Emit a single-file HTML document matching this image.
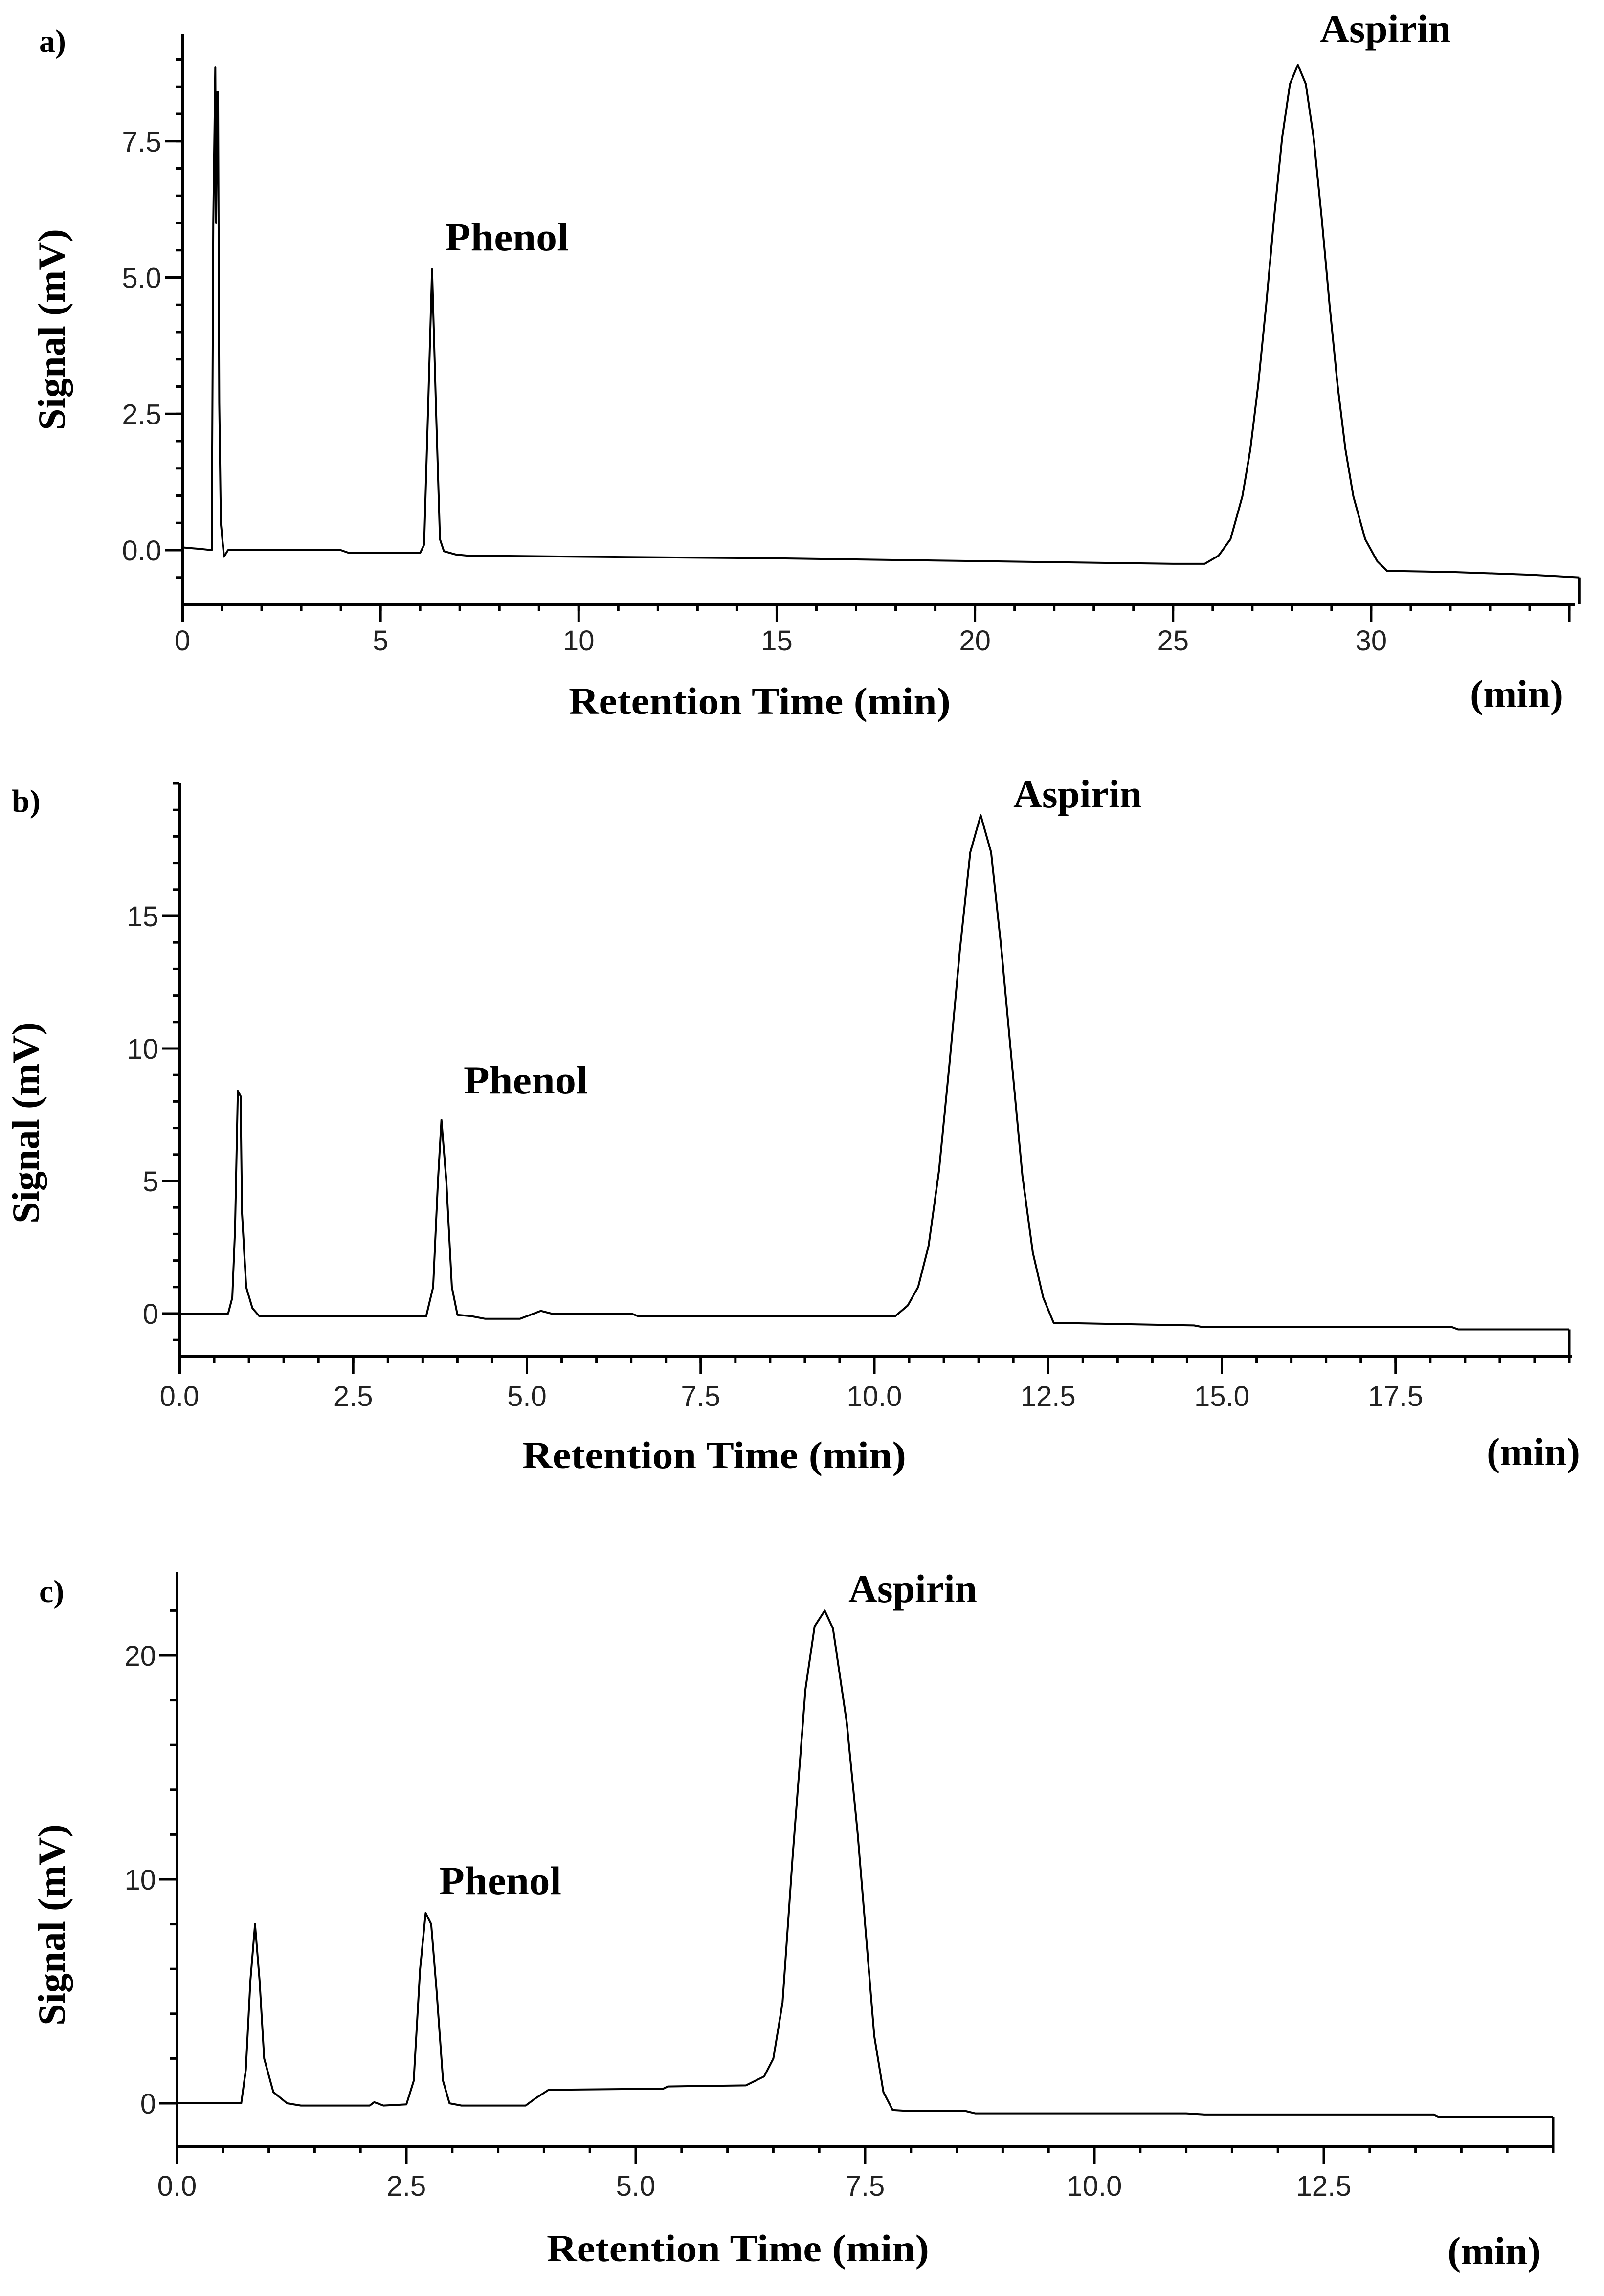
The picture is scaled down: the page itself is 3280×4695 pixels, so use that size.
<!DOCTYPE html>
<html><head><meta charset="utf-8"><style>
html,body{margin:0;padding:0;background:#fff}
svg{display:block}
.tick{font-family:"Liberation Sans",sans-serif;font-size:58px;fill:#222}
.ttl{font-family:"Liberation Serif",serif;font-weight:bold;fill:#000}
</style></head><body>
<svg id="fig" width="3280" height="4695" viewBox="0 0 3280 4695" xmlns="http://www.w3.org/2000/svg"></svg>
<script>
// ---- Panel a data ----
const aTimes   = [0,0.5,0.74,0.78,0.83,0.85,0.88,0.9,0.93,0.97,1.05,1.15,1.3,4.0,4.2,6.0,6.1,6.2,6.3,6.4,6.5,6.6,6.9,7.2,10,15,20,25,25.8,26.15,26.45,26.75,26.95,27.15,27.35,27.55,27.75,27.95,28.15,28.35,28.55,28.75,28.95,29.15,29.35,29.55,29.85,30.15,30.4,32,34,35.25];
const aSignals = [0.05,0.02,0.0,6.0,8.86,6.0,8.4,8.4,2.7,0.5,-0.12,0.0,0.0,0.0,-0.05,-0.05,0.1,2.6,5.15,2.6,0.2,-0.02,-0.08,-0.1,-0.12,-0.15,-0.2,-0.25,-0.25,-0.1,0.2,0.99,1.85,3.04,4.5,6.1,7.55,8.55,8.9,8.55,7.55,6.1,4.5,3.04,1.85,0.99,0.2,-0.2,-0.38,-0.4,-0.45,-0.5];
const aXTicks = ["0","5","10","15","20","25","30"];
const aYTicks = ["0.0","2.5","5.0","7.5"];
// ---- Panel b data ----
const bTimes   = [0,0.7,0.76,0.8,0.84,0.88,0.9,0.96,1.05,1.15,3.55,3.65,3.72,3.77,3.84,3.92,4.0,4.2,4.4,4.9,5.1,5.2,5.35,6.5,6.6,10.3,10.48,10.63,10.78,10.93,11.08,11.23,11.38,11.53,11.68,11.83,11.98,12.13,12.28,12.43,12.58,14.6,14.7,18.3,18.4,20.0];
const bSignals = [0,0,0.6,3.2,8.4,8.2,3.8,1.0,0.2,-0.1,-0.1,1.0,5.0,7.3,5.0,1.0,-0.05,-0.1,-0.2,-0.2,0.0,0.1,0.0,0.0,-0.1,-0.1,0.3,1.0,2.55,5.4,9.4,13.7,17.4,18.8,17.4,13.7,9.4,5.2,2.3,0.6,-0.35,-0.45,-0.5,-0.5,-0.6,-0.6];
const bXTicks = ["0.0","2.5","5.0","7.5","10.0","12.5","15.0","17.5"];
const bYTicks = ["0","5","10","15"];
// ---- Panel c data ----
const cTimes   = [0,0.7,0.75,0.8,0.85,0.9,0.95,1.05,1.2,1.35,2.1,2.15,2.25,2.5,2.58,2.65,2.71,2.77,2.83,2.9,2.97,3.1,3.8,3.9,4.05,5.3,5.35,6.2,6.4,6.5,6.6,6.71,6.85,6.95,7.06,7.15,7.3,7.42,7.5,7.6,7.7,7.8,8.0,8.6,8.7,11.0,11.2,13.7,13.75,15.0];
const cSignals = [0,0,1.5,5.5,8.0,5.5,2.0,0.5,0.0,-0.1,-0.1,0.05,-0.1,-0.05,1.0,6.0,8.5,8.0,5.0,1.0,0.0,-0.1,-0.1,0.2,0.6,0.65,0.75,0.8,1.2,2.0,4.5,11.0,18.5,21.3,22.0,21.2,17.0,12.0,8.0,3.0,0.5,-0.3,-0.35,-0.35,-0.45,-0.45,-0.5,-0.5,-0.6,-0.6];
const cXTicks = ["0.0","2.5","5.0","7.5","10.0","12.5"];
const cYTicks = ["0","10","20"];

const NS = "http://www.w3.org/2000/svg";
const svg = document.getElementById('fig');
function mk(tag, attrs, parent){ const e=document.createElementNS(NS,tag); for(const k in attrs) e.setAttribute(k,attrs[k]); (parent||svg).appendChild(e); return e; }

function panel(cfg, times, signals, xt, yt){
  const g = mk('g',{});
  
  
  const X = t => cfg.x0 + t*cfg.pxMin;
  const Y = v => cfg.y0 - v*cfg.pxUnit;
  const ya = mk('line',{x1:cfg.x0,y1:cfg.top,x2:cfg.x0,y2:cfg.bottom+36,stroke:'#000','stroke-width':6},g);
  
  
  const xa = mk('line',{x1:cfg.x0,y1:cfg.bottom,x2:cfg.right,y2:cfg.bottom,stroke:'#000','stroke-width':6},g);
  
  
  for(let t=0; X(t)<=cfg.right+1; t+=cfg.xMinor){
    mk('line',{x1:X(t),y1:cfg.bottom,x2:X(t),y2:cfg.bottom+14,stroke:'#000','stroke-width':5},g);
  }
  if(cfg.endTick) mk('line',{x1:X(cfg.endTick),y1:cfg.bottom,x2:X(cfg.endTick),y2:cfg.bottom+36,stroke:'#000','stroke-width':5},g);
  xt.forEach(s=>{
    const t=parseFloat(s);
    mk('line',{x1:X(t),y1:cfg.bottom,x2:X(t),y2:cfg.bottom+36,stroke:'#000','stroke-width':5},g);
    const tx=mk('text',{x:X(t),y:cfg.xLabY,'text-anchor':'middle',class:'tick'},g);
    tx.textContent=s;
    
    
  });
  for(let v=cfg.yMinor; Y(v)>=cfg.top; v+=cfg.yMinor) mk('line',{x1:cfg.x0-14,y1:Y(v),x2:cfg.x0,y2:Y(v),stroke:'#000','stroke-width':5},g);
  for(let v=-cfg.yMinor; Y(v)<=cfg.bottom; v-=cfg.yMinor) mk('line',{x1:cfg.x0-14,y1:Y(v),x2:cfg.x0,y2:Y(v),stroke:'#000','stroke-width':5},g);
  yt.forEach(s=>{
    const v=parseFloat(s);
    mk('line',{x1:cfg.x0-36,y1:Y(v),x2:cfg.x0,y2:Y(v),stroke:'#000','stroke-width':5},g);
    const tx=mk('text',{x:cfg.x0-43,y:Y(v)+21,'text-anchor':'end',class:'tick'},g);
    tx.textContent=s;
    
    
  });
  let d='';
  times.forEach((t,i)=>{ d+=(i?'L':'M')+X(t).toFixed(1)+' '+Y(signals[i]).toFixed(1); });
  const p=mk('path',{d:d,fill:'none',stroke:'#000','stroke-width':4,'stroke-linejoin':'round'},g);
  
  
  const last=times.length-1;
  mk('line',{x1:X(times[last]),y1:Y(signals[last]),x2:X(times[last]),y2:cfg.bottom,stroke:'#000','stroke-width':5},g);
}

panel({id:'a',x0:373,pxMin:81.03,y0:1125,pxUnit:111.5,top:70,bottom:1236,right:3221,xMinor:1,yMinor:0.5,xLabY:1330,endTick:35},aTimes,aSignals,aXTicks,aYTicks);
panel({id:'b',x0:367,pxMin:142.1,y0:2686,pxUnit:54.2,top:1601,bottom:2774,right:3215,xMinor:0.5,yMinor:1,xLabY:2875},bTimes,bSignals,bXTicks,bYTicks);
panel({id:'c',x0:362,pxMin:187.6,y0:4301,pxUnit:45.8,top:3215,bottom:4389,right:3176,xMinor:0.5,yMinor:2,xLabY:4490},cTimes,cSignals,cXTicks,cYTicks);
</script>
<svg style="position:absolute;left:0;top:0" width="3280" height="4695">
<g class="ttl">
<text x="80" y="106" font-size="66" class="ttl">a)</text>
<text x="910" y="512" font-size="82" textLength="253" lengthAdjust="spacingAndGlyphs" class="ttl">Phenol</text>
<text x="2699" y="86" font-size="82" textLength="268" lengthAdjust="spacingAndGlyphs" class="ttl">Aspirin</text>
<text x="1163" y="1460" font-size="78" textLength="781" lengthAdjust="spacingAndGlyphs" class="ttl">Retention Time (min)</text>
<text x="3006" y="1446" font-size="80" textLength="191" lengthAdjust="spacingAndGlyphs" class="ttl">(min)</text>
<text transform="translate(132,674) rotate(-90)" text-anchor="middle" font-size="78" textLength="412" lengthAdjust="spacingAndGlyphs" class="ttl">Signal (mV)</text>

<text x="24" y="1660" font-size="66" class="ttl">b)</text>
<text x="948" y="2236" font-size="82" textLength="254" lengthAdjust="spacingAndGlyphs" class="ttl">Phenol</text>
<text x="2072" y="1651" font-size="82" textLength="263" lengthAdjust="spacingAndGlyphs" class="ttl">Aspirin</text>
<text x="1068" y="3002" font-size="78" textLength="785" lengthAdjust="spacingAndGlyphs" class="ttl">Retention Time (min)</text>
<text x="3040" y="2996" font-size="80" textLength="191" lengthAdjust="spacingAndGlyphs" class="ttl">(min)</text>
<text transform="translate(79,2296) rotate(-90)" text-anchor="middle" font-size="78" textLength="412" lengthAdjust="spacingAndGlyphs" class="ttl">Signal (mV)</text>

<text x="80" y="3276" font-size="66" class="ttl">c)</text>
<text x="898" y="3873" font-size="82" textLength="250" lengthAdjust="spacingAndGlyphs" class="ttl">Phenol</text>
<text x="1735" y="3276" font-size="82" textLength="263" lengthAdjust="spacingAndGlyphs" class="ttl">Aspirin</text>
<text x="1118" y="4624" font-size="78" textLength="782" lengthAdjust="spacingAndGlyphs" class="ttl">Retention Time (min)</text>
<text x="2960" y="4630" font-size="80" textLength="191" lengthAdjust="spacingAndGlyphs" class="ttl">(min)</text>
<text transform="translate(132,3936) rotate(-90)" text-anchor="middle" font-size="78" textLength="412" lengthAdjust="spacingAndGlyphs" class="ttl">Signal (mV)</text>
</g>
</svg>
</body></html>
